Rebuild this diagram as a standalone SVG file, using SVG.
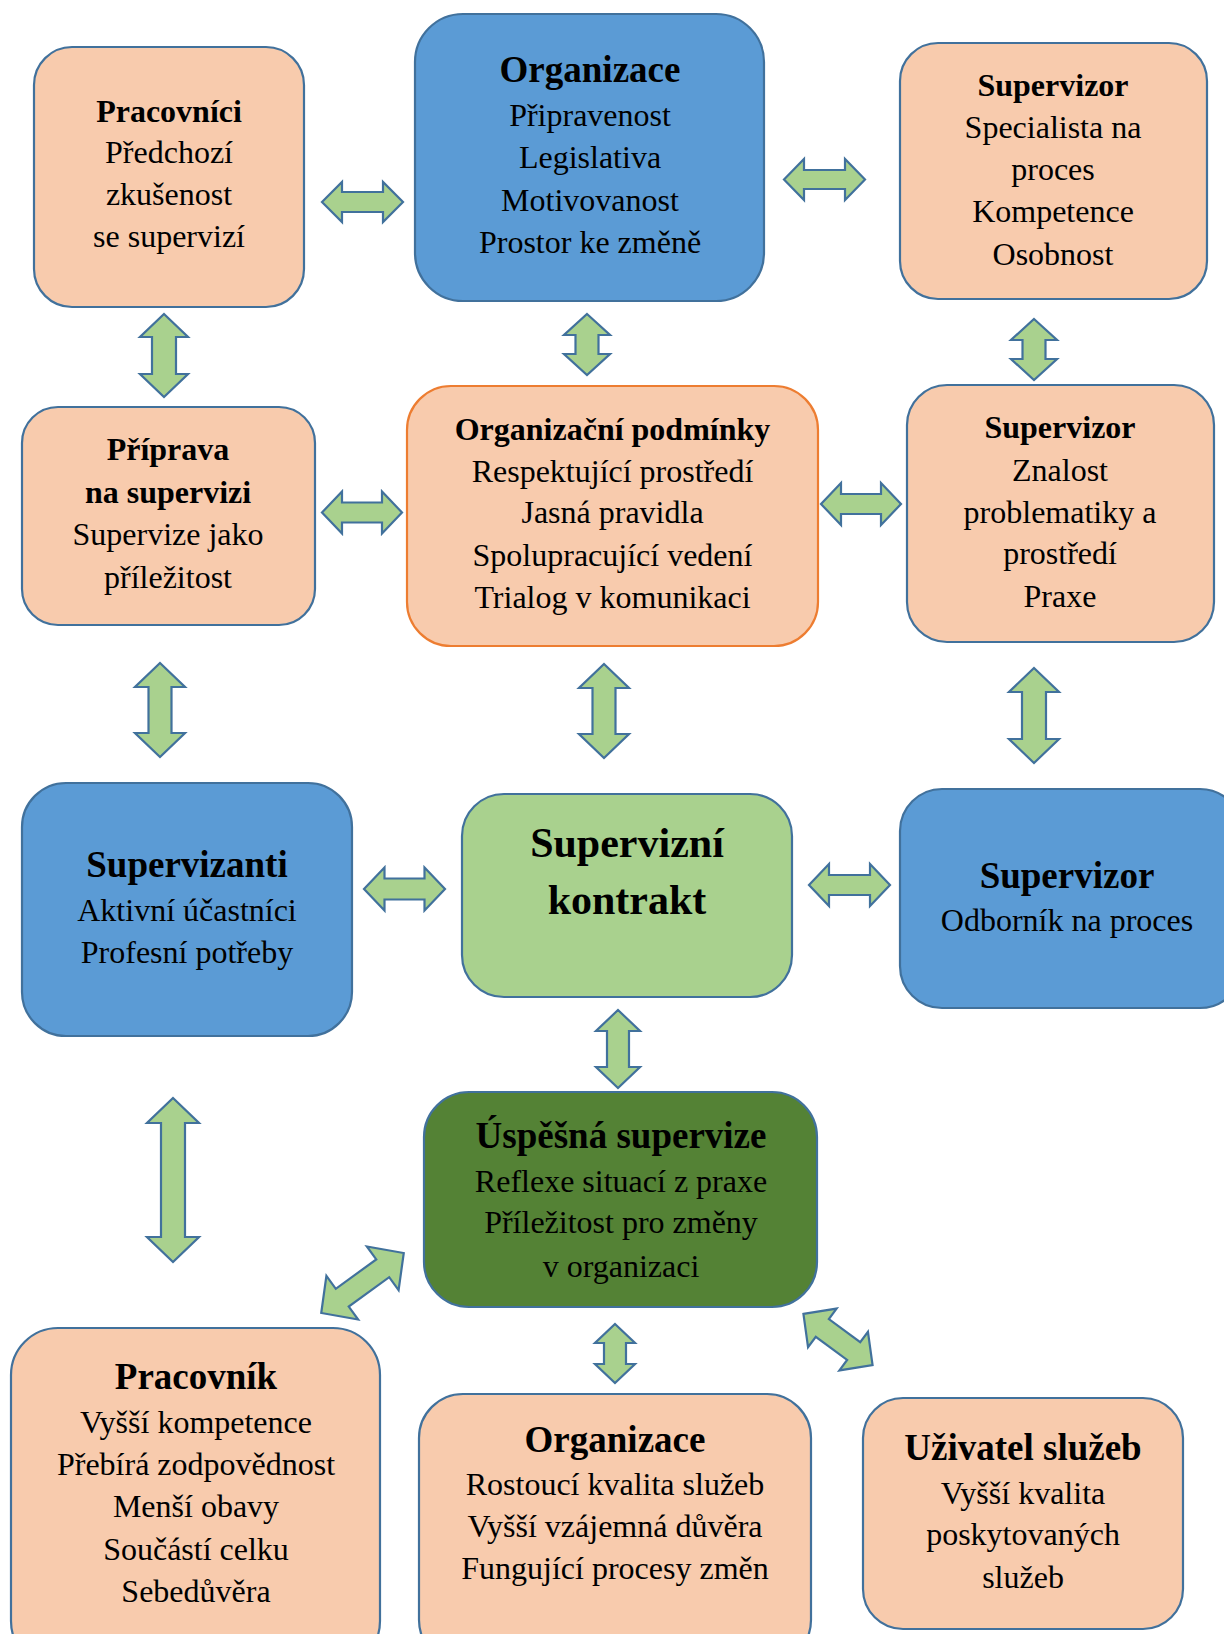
<svg xmlns="http://www.w3.org/2000/svg" width="1224" height="1634" viewBox="0 0 1224 1634">
  <style>
    .box{stroke:#41719C;stroke-width:2.2}
    .peach{fill:#F8CBAD}
    .blue{fill:#5B9BD5}
    .lgreen{fill:#A9D18E}
    .dgreen{fill:#548235}
    .orange{stroke:#ED7D31}
    text{font-family:"Liberation Serif","Times New Roman",serif;font-size:32px;text-anchor:middle;fill:#000}
    .b{font-weight:bold}
    .big{font-size:37px;font-weight:bold}
    .huge{font-size:42px;font-weight:bold}
    .arr{fill:#A9D18E;stroke:#41719C;stroke-width:2.2;stroke-linejoin:miter}
  </style>
  <rect width="1224" height="1634" fill="#fff"/>

  <!-- two-way block arrows between the boxes -->
  <g id="connectors">
    <!-- horizontal -->
    <polygon class="arr" transform="translate(362.5,202)" points="-40.5,0 -20.5,-20 -20.5,-10 20.5,-10 20.5,-20 40.5,0 20.5,20 20.5,10 -20.5,10 -20.5,20"/>
    <polygon class="arr" transform="translate(824.5,179.5)" points="-40.5,0 -20.5,-20.5 -20.5,-9.5 20.5,-9.5 20.5,-20.5 40.5,0 20.5,20.5 20.5,9.5 -20.5,9.5 -20.5,20.5"/>
    <polygon class="arr" transform="translate(362,512.5)" points="-40,0 -20,-21 -20,-10 20,-10 20,-21 40,0 20,21 20,10 -20,10 -20,21"/>
    <polygon class="arr" transform="translate(861,504)" points="-40,0 -20,-21 -20,-10 20,-10 20,-21 40,0 20,21 20,10 -20,10 -20,21"/>
    <polygon class="arr" transform="translate(404.5,889)" points="-40.5,0 -20,-21.5 -20,-10.5 20,-10.5 20,-21.5 40.5,0 20,21.5 20,10.5 -20,10.5 -20,21.5"/>
    <polygon class="arr" transform="translate(849.5,885)" points="-40.5,0 -20.5,-21 -20.5,-10 20.5,-10 20.5,-21 40.5,0 20.5,21 20.5,10 -20.5,10 -20.5,21"/>
    <!-- vertical -->
    <polygon class="arr" transform="translate(164,355.5) rotate(90)" points="-41.5,0 -18.5,-24 -18.5,-12 18.5,-12 18.5,-24 41.5,0 18.5,24 18.5,12 -18.5,12 -18.5,24"/>
    <polygon class="arr" transform="translate(587,344.5) rotate(90)" points="-30.5,0 -9.5,-23 -9.5,-11.5 9.5,-11.5 9.5,-23 30.5,0 9.5,23 9.5,11.5 -9.5,11.5 -9.5,23"/>
    <polygon class="arr" transform="translate(1034,349.5) rotate(90)" points="-30.5,0 -9.5,-23 -9.5,-11.5 9.5,-11.5 9.5,-23 30.5,0 9.5,23 9.5,11.5 -9.5,11.5 -9.5,23"/>
    <polygon class="arr" transform="translate(160,710) rotate(90)" points="-47,0 -23,-25 -23,-11.5 23,-11.5 23,-25 47,0 23,25 23,11.5 -23,11.5 -23,25"/>
    <polygon class="arr" transform="translate(604,711) rotate(90)" points="-47,0 -23,-25 -23,-11.5 23,-11.5 23,-25 47,0 23,25 23,11.5 -23,11.5 -23,25"/>
    <polygon class="arr" transform="translate(1034,715.5) rotate(90)" points="-47.5,0 -23.5,-25 -23.5,-12 23.5,-12 23.5,-25 47.5,0 23.5,25 23.5,12 -23.5,12 -23.5,25"/>
    <polygon class="arr" transform="translate(618,1049) rotate(90)" points="-39,0 -18,-22 -18,-11 18,-11 18,-22 39,0 18,22 18,11 -18,11 -18,22"/>
    <polygon class="arr" transform="translate(173,1180) rotate(90)" points="-82,0 -57,-26 -57,-12 57,-12 57,-26 82,0 57,26 57,12 -57,12 -57,26"/>
    <polygon class="arr" transform="translate(615,1353.5) rotate(90)" points="-29.5,0 -10.5,-20 -10.5,-11 10.5,-11 10.5,-20 29.5,0 10.5,20 10.5,11 -10.5,11 -10.5,20"/>
    <!-- diagonal -->
    <polygon class="arr" transform="translate(362.5,1283) rotate(-36)" points="-51,0 -25,-27 -25,-11 25,-11 25,-27 51,0 25,27 25,11 -25,11 -25,27"/>
    <polygon class="arr" transform="translate(838,1339.5) rotate(36.5)" points="-43,0 -19.5,-24 -19.5,-11 19.5,-11 19.5,-24 43,0 19.5,24 19.5,11 -19.5,11 -19.5,24"/>
  </g>

  <g id="pracovnici">
    <rect class="box peach" x="34" y="47" width="270" height="260" rx="38"/>
    <text x="169" y="122" class="b">Pracovníci</text>
    <text x="169" y="163">Předchozí</text>
    <text x="169" y="205">zkušenost</text>
    <text x="169" y="247">se supervizí</text>
  </g>

  <g id="organizace-top">
    <rect class="box blue" x="415" y="14" width="349" height="287" rx="48"/>
    <text x="590" y="82" class="big">Organizace</text>
    <text x="590" y="126">Připravenost</text>
    <text x="590" y="168">Legislativa</text>
    <text x="590" y="211">Motivovanost</text>
    <text x="590" y="253">Prostor ke změně</text>
  </g>

  <g id="supervizor-specialista">
    <rect class="box peach" x="900" y="43" width="307" height="256" rx="38"/>
    <text x="1053" y="96" class="b">Supervizor</text>
    <text x="1053" y="138">Specialista na</text>
    <text x="1053" y="180">proces</text>
    <text x="1053" y="222">Kompetence</text>
    <text x="1053" y="265">Osobnost</text>
  </g>

  <g id="priprava">
    <rect class="box peach" x="22" y="407" width="293" height="218" rx="36"/>
    <text x="168" y="460" class="b">Příprava</text>
    <text x="168" y="502.5" class="b">na supervizi</text>
    <text x="168" y="545">Supervize jako</text>
    <text x="168" y="587.5">příležitost</text>
  </g>

  <g id="organizacni-podminky">
    <rect class="box peach orange" x="407" y="386" width="411" height="260" rx="44"/>
    <text x="612.5" y="440" class="b">Organizační podmínky</text>
    <text x="612.5" y="481.5">Respektující prostředí</text>
    <text x="612.5" y="523">Jasná pravidla</text>
    <text x="612.5" y="566">Spolupracující vedení</text>
    <text x="612.5" y="608">Trialog v komunikaci</text>
  </g>

  <g id="supervizor-znalost">
    <rect class="box peach" x="907" y="385" width="307" height="257" rx="40"/>
    <text x="1060" y="438" class="b">Supervizor</text>
    <text x="1060" y="480.5">Znalost</text>
    <text x="1060" y="522.5">problematiky a</text>
    <text x="1060" y="564">prostředí</text>
    <text x="1060" y="606.5">Praxe</text>
  </g>

  <g id="supervizanti">
    <rect class="box blue" x="22" y="783" width="330" height="253" rx="44"/>
    <text x="187" y="876.5" class="big">Supervizanti</text>
    <text x="187" y="920.5">Aktivní účastníci</text>
    <text x="187" y="962.5">Profesní potřeby</text>
  </g>

  <g id="kontrakt">
    <rect class="box lgreen" x="462" y="794" width="330" height="203" rx="42"/>
    <text x="627" y="857" class="huge">Supervizní</text>
    <text x="627" y="914" class="huge">kontrakt</text>
  </g>

  <g id="supervizor-odbornik">
    <rect class="box blue" x="900" y="789" width="342" height="219" rx="42"/>
    <text x="1067" y="887.5" class="big">Supervizor</text>
    <text x="1067" y="930.5">Odborník na proces</text>
  </g>

  <g id="uspesna-supervize">
    <rect class="box dgreen" x="424" y="1092" width="393" height="215" rx="45"/>
    <text x="621" y="1148" class="big">Úspěšná supervize</text>
    <text x="621" y="1192">Reflexe situací z praxe</text>
    <text x="621" y="1233">Příležitost pro změny</text>
    <text x="621" y="1276.5">v organizaci</text>
  </g>

  <g id="pracovnik">
    <rect class="box peach" x="11" y="1328" width="369" height="340" rx="47"/>
    <text x="196" y="1389" class="big">Pracovník</text>
    <text x="196" y="1432.5">Vyšší kompetence</text>
    <text x="196" y="1475">Přebírá zodpovědnost</text>
    <text x="196" y="1517">Menší obavy</text>
    <text x="196" y="1560">Součástí celku</text>
    <text x="196" y="1602">Sebedůvěra</text>
  </g>

  <g id="organizace-bottom">
    <rect class="box peach" x="419" y="1394" width="392" height="270" rx="44"/>
    <text x="615" y="1451.5" class="big">Organizace</text>
    <text x="615" y="1495">Rostoucí kvalita služeb</text>
    <text x="615" y="1537">Vyšší vzájemná důvěra</text>
    <text x="615" y="1579">Fungující procesy změn</text>
  </g>

  <g id="uzivatel">
    <rect class="box peach" x="863" y="1398" width="320" height="231" rx="40"/>
    <text x="1023" y="1460" class="big">Uživatel služeb</text>
    <text x="1023" y="1504">Vyšší kvalita</text>
    <text x="1023" y="1545">poskytovaných</text>
    <text x="1023" y="1588">služeb</text>
  </g>
</svg>
